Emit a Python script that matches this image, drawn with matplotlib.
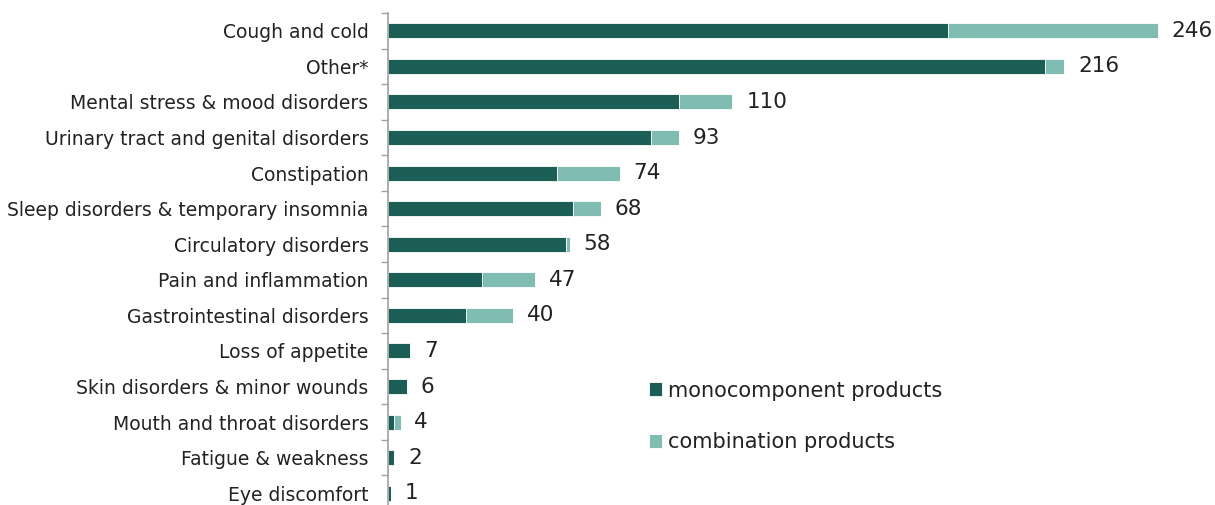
import matplotlib.pyplot as plt
import numpy as np

categories = ['Cough and cold', 'Other*', 'Mental stress & mood disorders',
              'Urinary tract and genital disorders', 'Constipation',
              'Sleep disorders & temporary insomnia', 'Circulatory disorders',
              'Pain and inflammation', 'Gastrointestinal disorders',
              'Loss of appetite', 'Skin disorders & minor wounds',
              'Mouth and throat disorders', 'Fatigue & weakness', 'Eye discomfort']
mono = [179, 210, 93, 84, 54, 59, 57, 30, 25, 7, 6, 2, 2, 1]
combo = [67, 6, 17, 9, 20, 9, 1, 17, 15, 0, 0, 2, 0, 0]
totals = [246, 216, 110, 93, 74, 68, 58, 47, 40, 7, 6, 4, 2, 1]

dark = '#1b5e55'
light = '#7fbdb3'

fig = plt.figure(figsize=(12.15, 5.05), dpi=100)
ax = fig.add_axes([388 / 1215, 0, 1 - 388 / 1215, 492 / 505])

y = np.arange(len(categories))
ax.barh(y, mono, height=0.42, color=dark, edgecolor='white', linewidth=0.6,
        label='monocomponent products')
ax.barh(y, combo, left=mono, height=0.42, color=light, edgecolor='white', linewidth=0.6,
        label='combination products')

for yi, t in zip(y, totals):
    ax.annotate(str(t), (t, yi), xytext=(10, 0), textcoords='offset points',
                va='center', ha='left', fontsize=15.5, color='#222222')

ax.set_xlim(0, (1215 - 388) / 3.13)
ax.set_ylim(13.5 - 6 / 35.5, -0.5)

ax.set_yticks(y)
ax.set_yticklabels(categories, fontsize=13.5, color='#222222')
ax.tick_params(axis='y', which='major', length=0, pad=14)
ax.set_yticks(np.arange(-0.5, 13.5, 1), minor=True)
ax.tick_params(axis='y', which='minor', length=5, color='#a0a0a0', width=1)
ax.set_xticks([])

for s in ['top', 'right', 'bottom']:
    ax.spines[s].set_visible(False)
ax.spines['left'].set_color('#a0a0a0')
ax.spines['left'].set_linewidth(1.2)

ax.legend(loc='upper left', bbox_to_anchor=(630 / 1215, 1 - 362 / 505),
          bbox_transform=fig.transFigure, frameon=False, fontsize=15,
          handlelength=0.65, handleheight=0.65, handletextpad=0.25,
          labelspacing=1.5, labelcolor='#222222')

fig.savefig('out.png', dpi=100)
